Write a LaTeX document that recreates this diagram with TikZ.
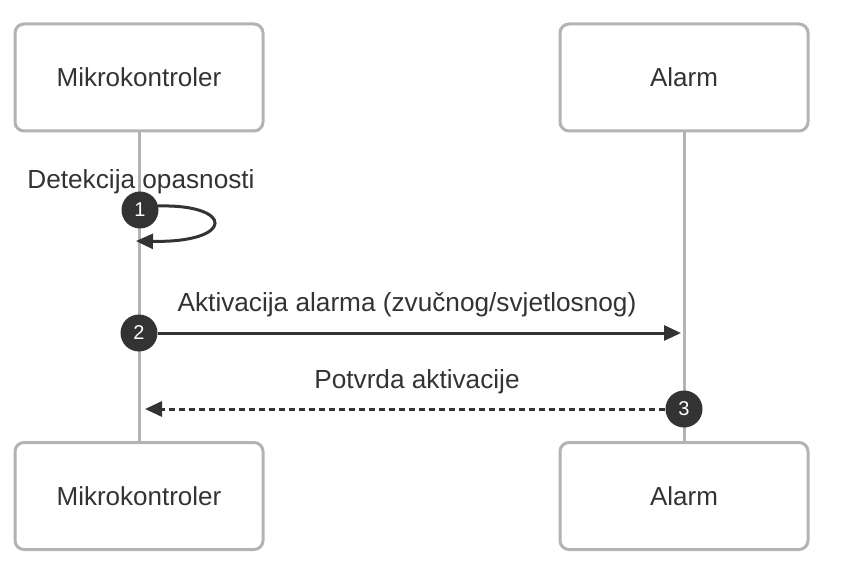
\documentclass[tikz,border=0pt]{standalone}
\usepackage{fontspec}
\setmainfont{Liberation Sans}
\usetikzlibrary{arrows.meta}
\definecolor{boxgray}{HTML}{B3B3B3}
\definecolor{ink}{HTML}{333333}
\begin{document}
\begin{tikzpicture}[x=1pt,y=1pt,
  actor/.style={draw=boxgray,line width=3pt,rounded corners=9pt,fill=white,
    minimum width=248pt,minimum height=107pt,text=ink,font=\fontsize{26}{30}\selectfont,inner sep=0pt},
  life/.style={draw=boxgray,line width=3pt},
  msg/.style={draw=ink,line width=3pt,-{Triangle[length=17pt,width=15pt]}},
  dmsg/.style={msg,dash pattern=on 6pt off 4pt},
  num/.style={circle,fill=ink,text=white,minimum size=37pt,inner sep=0pt,font=\fontsize{20}{22}\selectfont},
  lbl/.style={text=ink,font=\fontsize{26.2}{30}\selectfont,inner sep=0pt}]
\useasboundingbox (0,0) rectangle (846,-564);
\node[actor] (mt) at (139,-77.5) {Mikrokontroler};
\node[actor] (at) at (684,-77.5) {Alarm};
\node[actor] (mb) at (139,-496) {Mikrokontroler};
\node[actor] (ab) at (684,-496) {Alarm};
\draw[life] (mt.south) -- (mb.north);
\draw[life] (at.south) -- (ab.north);
% self message
\node[lbl] (l1) at (141,-182) {Detekcija opasnosti};
\node[num] (n1) at (140,-210) {1};
\coordinate (s1a) at (158,-206);
\coordinate (s1b) at (136,-241);
\draw[msg] (s1a) .. controls (235,-204) and (235,-243) .. (s1b);
% message 2
\node[lbl] (l2) at (407,-305) {Aktivacija alarma (zvučnog/svjetlosnog)};
\node[num] (n2) at (139,-333) {2};
\coordinate (e2) at (681,-333);
\draw[msg] (n2.east) -- (e2);
% message 3
\node[lbl] (l3) at (417,-382) {Potvrda aktivacije};
\node[num] (n3) at (684,-409) {3};
\coordinate (e3) at (145,-409);
\draw[dmsg] (n3.west) -- (e3);
\end{tikzpicture}
\end{document}
